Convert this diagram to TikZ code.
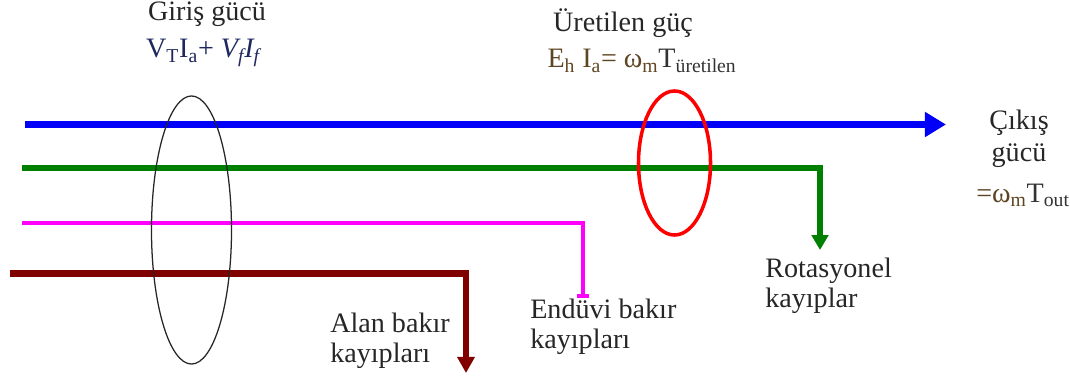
\documentclass[tikz,border=0pt]{standalone}
\usepackage{fontspec}
\setmainfont{Liberation Serif}
\usepackage{xcolor}
\usetikzlibrary{arrows.meta, positioning, shapes.geometric}

\definecolor{inblue}{RGB}{0,0,250}
\definecolor{rotgreen}{RGB}{0,128,0}
\definecolor{armpink}{RGB}{255,0,255}
\definecolor{fieldred}{RGB}{128,0,0}
\definecolor{eqnavy}{RGB}{30,40,95}
\definecolor{eqbrown}{RGB}{95,70,35}

\begin{document}
\begin{tikzpicture}[x=0.025cm, y=-0.025cm,
  txt/.style={font=\fontsize{20}{21}\selectfont, inner sep=0pt, text=black!85},
  title/.style={txt, anchor=base, align=center},
  losstxt/.style={txt, anchor=base west, align=left},
  ring/.style={ellipse, draw, inner sep=0pt},
  mainflow/.style={-{Triangle[length=15pt, width=17pt]}, line width=5.5pt, color=inblue},
  rotflow/.style={-{Triangle[length=10.5pt, width=11.5pt]}, line width=3.8pt, color=rotgreen},
  armflow/.style={-{Bar[width=9pt]}, line width=2.8pt, color=armpink},
  fieldflow/.style={-{Triangle[length=11.5pt, width=12pt]}, line width=4.3pt, color=fieldred}
]
  \useasboundingbox (0,0) rectangle (1070,380);

  %% power labels
  \node[title] (girisT) at (207,21) {Giriş gücü};
  \node[title, text=eqnavy] (girisF) at (203,58)
    {V\textsubscript{T}I\textsubscript{a}+ \textit{V\textsubscript{f}I\textsubscript{f}}};

  \node[title] (uretT) at (623,32) {Üretilen güç};
  \node[title, text=eqbrown] (uretF) at (642,68)
    {E\textsubscript{h} I\textsubscript{a}= ω\textsubscript{m}\textcolor{black!80}{T\textsubscript{üretilen}}};

  \node[title] (cikisT) at (1019,162) {Çıkış\\[2.4pt]gücü};
  \node[title, text=eqbrown] (cikisF) at (1023,202)
    {=ω\textsubscript{m}\textcolor{black!80}{T\textsubscript{out}}};

  %% flows in and out
  \coordinate (blueIn)  at (25,124.5);
  \coordinate (blueOut) at (946,124.5);
  \coordinate (greenIn) at (22,168);
  \coordinate (rotEnd)  at (820,250);
  \coordinate (pinkIn)  at (22,223);
  \coordinate (armEnd)  at (583,298);
  \coordinate (redIn)   at (10,273.5);
  \coordinate (fieldEnd) at (466,373);

  \draw[mainflow] (blueIn) -- (blueOut);
  \draw[rotflow] (greenIn) -| (rotEnd);
  \draw[armflow] (pinkIn) -| (armEnd);
  \draw[fieldflow] (redIn) -| (fieldEnd);

  %% losses (anchored at the last line)
  \node[losstxt] (rotTxt)  at (765,307) {Rotasyonel\\kayıplar};
  \node[losstxt] (enduTxt) at (530,348) {Endüvi bakır\\kayıpları};
  \node[losstxt] (alanTxt) at (330,362) {Alan bakır\\kayıpları};

  %% rings
  \node[ring, line width=0.9pt, draw=black!85, minimum width=2cm, minimum height=6.7cm]
    (girisRing) at (191.5,230) {};
  \node[ring, line width=2.5pt, draw=red, minimum width=1.8cm, minimum height=3.6cm]
    (uretRing) at (674.5,163) {};

\end{tikzpicture}
\end{document}
